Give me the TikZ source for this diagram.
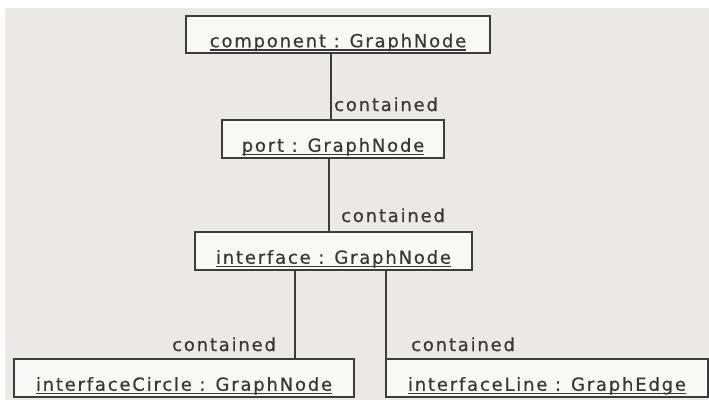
\documentclass[tikz,border=0pt]{standalone}
\usepackage{fontspec}
\newfontfamily\umlfont[LetterSpace=10,FakeBold=0.6]{DejaVu Sans}
\definecolor{bgc}{HTML}{EAE9E5}
\definecolor{boxc}{HTML}{F8F8F6}
\definecolor{linec}{HTML}{3C3C3C}
\definecolor{textc}{HTML}{383838}
\newcommand{\ulin}[1]{\setbox0\hbox{#1}\rlap{\color{textc}\rule[-3.5pt]{\wd0}{1.3pt}}\box0}
\tikzset{
  obj/.style={draw=linec, line width=1.6pt, fill=boxc, rectangle, inner sep=0pt,
    text height=31.5pt, text depth=6pt, font=\umlfont\fontsize{18}{21}\selectfont, text=textc},
  conn/.style={draw=linec, line width=1.6pt},
  lbl/.style={inner sep=0pt, anchor=base west, font=\umlfont\fontsize{18}{21}\selectfont, text=textc},
}
\begin{document}
\begin{tikzpicture}[x=1pt,y=-1pt]
\useasboundingbox (0,0) rectangle (709,400);
\fill[white] (0,0) rectangle (709,400);
\fill[bgc] (5,8) rectangle (709,400);
% objects
\node[obj, minimum width=304pt] (comp) at (338,34.5) {\ulin{component : GraphNode}};
\node[obj, minimum width=222pt] (port) at (333,139) {\ulin{port : GraphNode}};
\node[obj, minimum width=277pt] (iface) at (333.5,251) {\ulin{interface : GraphNode}};
\node[obj, minimum width=340pt] (circ) at (184,378) {\ulin{interfaceCircle : GraphNode}};
\node[obj, minimum width=322pt] (line) at (547,378) {\ulin{interfaceLine : GraphEdge}};
% connector x positions
\coordinate (x1) at (331,0);
\coordinate (x2) at (329,0);
\coordinate (x3) at (295,0);
\coordinate (x4) at (386,0);
\draw[conn] (comp.south -| x1) -- (port.north -| x1);
\draw[conn] (port.south -| x2) -- (iface.north -| x2);
\draw[conn] (iface.south -| x3) -- (circ.north -| x3);
\draw[conn] (iface.south -| x4) -- (line.north -| x4);
% labels
\node[lbl] (l1) at (334,111) {contained};
\node[lbl] (l2) at (341,222) {contained};
\node[lbl] (l3) at (172,351) {contained};
\node[lbl] (l4) at (411,351) {contained};
\end{tikzpicture}
\end{document}
